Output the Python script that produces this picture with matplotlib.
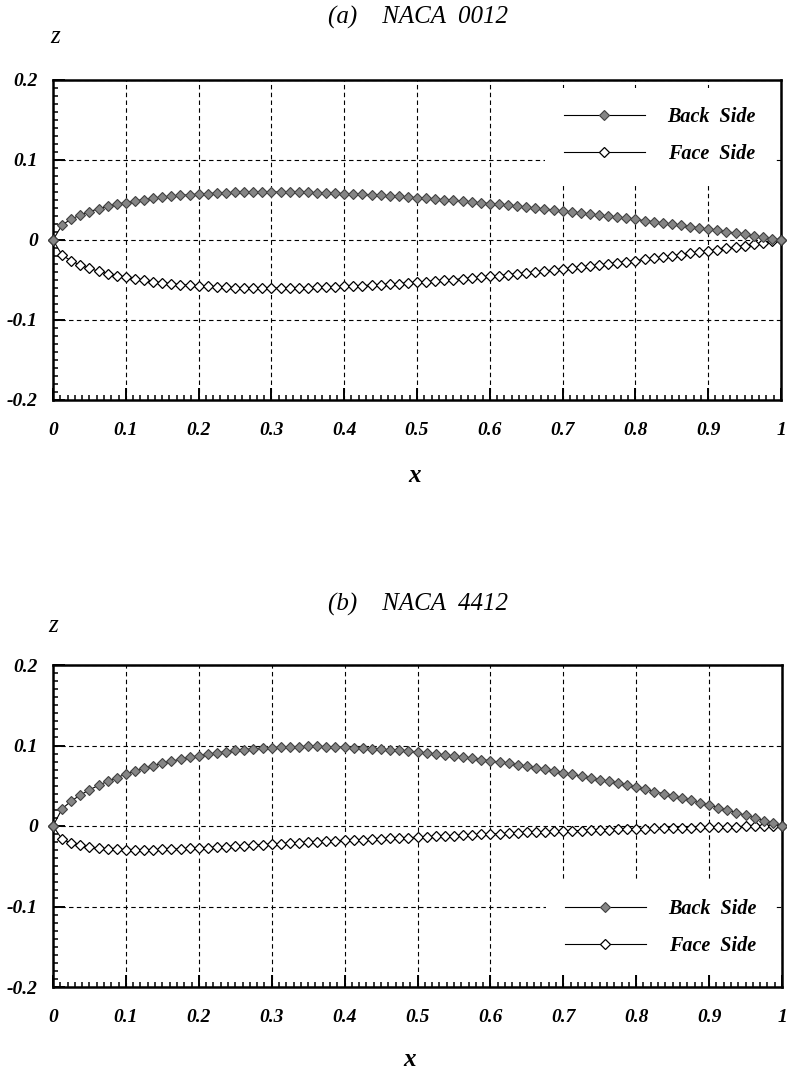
import matplotlib
matplotlib.use("Agg")
import matplotlib.pyplot as plt
from matplotlib.ticker import MultipleLocator, FixedLocator

plt.rcParams['font.family'] = ['Liberation Serif', 'DejaVu Serif']
plt.rcParams['axes.unicode_minus'] = False

# chord stations (x/c)
x_stations = [
    0.0, 0.0125, 0.025, 0.0375, 0.05, 0.0625, 0.075, 0.0875, 0.1, 0.1125,
    0.125, 0.1375, 0.15, 0.1625, 0.175, 0.1875, 0.2, 0.2125, 0.225, 0.2375,
    0.25, 0.2625, 0.275, 0.2875, 0.3, 0.3125, 0.325, 0.3375, 0.35, 0.3625,
    0.375, 0.3875, 0.4, 0.4125, 0.425, 0.4375, 0.45, 0.4625, 0.475, 0.4875,
    0.5, 0.5125, 0.525, 0.5375, 0.55, 0.5625, 0.575, 0.5875, 0.6, 0.6125,
    0.625, 0.6375, 0.65, 0.6625, 0.675, 0.6875, 0.7, 0.7125, 0.725, 0.7375,
    0.75, 0.7625, 0.775, 0.7875, 0.8, 0.8125, 0.825, 0.8375, 0.85, 0.8625,
    0.875, 0.8875, 0.9, 0.9125, 0.925, 0.9375, 0.95, 0.9625, 0.975, 0.9875,
    1.0,
]

# (a) NACA 0012
back_0012 = [
    0.0, 0.0189, 0.0261, 0.0314, 0.0355, 0.0390, 0.0420, 0.0446, 0.0468, 0.0488,
    0.0506, 0.0521, 0.0535, 0.0546, 0.0557, 0.0566, 0.0574, 0.0580, 0.0586, 0.0590,
    0.0594, 0.0597, 0.0599, 0.0600, 0.0600, 0.0600, 0.0599, 0.0597, 0.0595, 0.0592,
    0.0588, 0.0584, 0.0580, 0.0575, 0.0570, 0.0564, 0.0558, 0.0551, 0.0544, 0.0536,
    0.0529, 0.0520, 0.0512, 0.0503, 0.0494, 0.0485, 0.0475, 0.0465, 0.0455, 0.0444,
    0.0433, 0.0422, 0.0411, 0.0399, 0.0388, 0.0376, 0.0363, 0.0351, 0.0338, 0.0325,
    0.0312, 0.0299, 0.0285, 0.0271, 0.0257, 0.0243, 0.0228, 0.0214, 0.0199, 0.0183,
    0.0168, 0.0152, 0.0136, 0.0120, 0.0104, 0.0087, 0.0070, 0.0053, 0.0036, 0.0018,
    0.0,
]
face_0012 = [
    0.0, -0.0189, -0.0261, -0.0314, -0.0355, -0.0390, -0.0420, -0.0446, -0.0468, -0.0488,
    -0.0506, -0.0521, -0.0535, -0.0546, -0.0557, -0.0566, -0.0574, -0.0580, -0.0586, -0.0590,
    -0.0594, -0.0597, -0.0599, -0.0600, -0.0600, -0.0600, -0.0599, -0.0597, -0.0595, -0.0592,
    -0.0588, -0.0584, -0.0580, -0.0575, -0.0570, -0.0564, -0.0558, -0.0551, -0.0544, -0.0536,
    -0.0529, -0.0520, -0.0512, -0.0503, -0.0494, -0.0485, -0.0475, -0.0465, -0.0455, -0.0444,
    -0.0433, -0.0422, -0.0411, -0.0399, -0.0388, -0.0376, -0.0363, -0.0351, -0.0338, -0.0325,
    -0.0312, -0.0299, -0.0285, -0.0271, -0.0257, -0.0243, -0.0228, -0.0214, -0.0199, -0.0183,
    -0.0168, -0.0152, -0.0136, -0.0120, -0.0104, -0.0087, -0.0070, -0.0053, -0.0036, -0.0018,
    0.0,
]

# (b) NACA 4412
back_4412 = [
    0.0, 0.0214, 0.0310, 0.0385, 0.0449, 0.0505, 0.0556, 0.0602, 0.0643, 0.0681,
    0.0716, 0.0749, 0.0778, 0.0805, 0.0830, 0.0853, 0.0874, 0.0892, 0.0909, 0.0924,
    0.0938, 0.0950, 0.0960, 0.0968, 0.0975, 0.0981, 0.0985, 0.0987, 0.0988, 0.0988,
    0.0987, 0.0984, 0.0980, 0.0975, 0.0969, 0.0962, 0.0955, 0.0947, 0.0938, 0.0928,
    0.0917, 0.0906, 0.0895, 0.0882, 0.0869, 0.0855, 0.0841, 0.0826, 0.0810, 0.0794,
    0.0777, 0.0760, 0.0742, 0.0723, 0.0704, 0.0684, 0.0663, 0.0642, 0.0621, 0.0599,
    0.0576, 0.0553, 0.0529, 0.0504, 0.0479, 0.0454, 0.0428, 0.0401, 0.0374, 0.0346,
    0.0317, 0.0288, 0.0259, 0.0229, 0.0198, 0.0166, 0.0134, 0.0102, 0.0068, 0.0034,
    0.0,
]
face_4412 = [
    0.0, -0.0165, -0.0213, -0.0242, -0.0262, -0.0275, -0.0284, -0.0290, -0.0293, -0.0295,
    -0.0295, -0.0293, -0.0291, -0.0287, -0.0283, -0.0279, -0.0274, -0.0268, -0.0262, -0.0256,
    -0.0250, -0.0244, -0.0238, -0.0231, -0.0225, -0.0219, -0.0213, -0.0207, -0.0201, -0.0195,
    -0.0190, -0.0185, -0.0180, -0.0175, -0.0170, -0.0165, -0.0160, -0.0155, -0.0150, -0.0145,
    -0.0140, -0.0135, -0.0129, -0.0124, -0.0119, -0.0114, -0.0109, -0.0104, -0.0099, -0.0094,
    -0.0090, -0.0085, -0.0080, -0.0076, -0.0072, -0.0067, -0.0063, -0.0059, -0.0056, -0.0052,
    -0.0048, -0.0045, -0.0041, -0.0038, -0.0035, -0.0032, -0.0029, -0.0026, -0.0024, -0.0021,
    -0.0019, -0.0016, -0.0014, -0.0012, -0.0010, -0.0008, -0.0006, -0.0005, -0.0003, -0.0002,
    0.0,
]

series_labels = ['Back  Side', 'Face  Side']
titles = ['(a)    NACA  0012', '(b)    NACA  4412']
xticks = [0, 0.1, 0.2, 0.3, 0.4, 0.5, 0.6, 0.7, 0.8, 0.9, 1.0]
xticklabels = ['0', '0.1', '0.2', '0.3', '0.4', '0.5', '0.6', '0.7', '0.8', '0.9', '1']
yticks = [-0.2, -0.1, 0, 0.1, 0.2]
yticklabels = ['-0.2', '-0.1', '0', '0.1', '0.2']

W, H = 787, 1072
fig = plt.figure(figsize=(W / 100, H / 100), dpi=100)

tick_font = dict(family='Liberation Serif', style='italic', weight='bold', size=14)


def make_axes(px_left, px_top, px_right, px_bottom):
    return fig.add_axes([px_left / W, 1 - px_bottom / H,
                         (px_right - px_left) / W, (px_bottom - px_top) / H])


def draw(ax, back, face, legend_loc, anchor):
    ax.set_xlim(0, 1)
    ax.set_ylim(-0.2, 0.2)
    hf, = ax.plot(x_stations, face, color='black', lw=0.8, marker='D', ms=5.0,
                  mfc='white', mec='black', mew=0.9, clip_on=False, zorder=3)
    hb, = ax.plot(x_stations, back, color='black', lw=0.8, marker='D', ms=5.0,
                  mfc='#858585', mec='#404040', mew=0.8, clip_on=False, zorder=4)
    ax.xaxis.set_major_locator(FixedLocator(xticks))
    ax.set_xticklabels(xticklabels, fontdict=tick_font)
    ax.yaxis.set_major_locator(FixedLocator(yticks))
    ax.set_yticklabels(yticklabels, fontdict=tick_font)
    ax.xaxis.set_minor_locator(MultipleLocator(0.01))
    ax.yaxis.set_minor_locator(MultipleLocator(0.01))
    ax.tick_params(which='major', direction='in', length=8.5, width=1.4,
                   top=False, right=False)
    ax.tick_params(axis='x', which='major', pad=16)
    ax.tick_params(axis='y', which='major', pad=11)
    ax.tick_params(which='minor', direction='in', length=3.6, width=1.1,
                   top=False, right=False)
    for s in ax.spines.values():
        s.set_linewidth(1.8)
    ax.grid(True, which='major', color='black', lw=0.8, ls=(0, (4, 3)))
    leg = ax.legend([hb, hf], series_labels, loc=legend_loc, bbox_to_anchor=anchor,
                    borderaxespad=0, frameon=True, fancybox=False, framealpha=1,
                    facecolor='white', edgecolor='none', numpoints=1,
                    handlelength=4.0, handletextpad=1.15, borderpad=0.95,
                    labelspacing=0.85,
                    prop=dict(family='Liberation Serif', style='italic',
                              weight='bold', size=14.5))
    return leg


ax1 = make_axes(53, 80, 781, 400)
draw(ax1, back_0012, face_0012, 'upper right', (0.992, 0.975))
ax2 = make_axes(53, 665, 782, 987)
draw(ax2, back_4412, face_4412, 'lower right', (0.992, 0.037))

label_font = dict(family='Liberation Serif', style='italic', size=18)
fig.text(418 / W, 1 - 17 / H, titles[0], ha='center', va='center', **label_font)
fig.text(418 / W, 1 - 604 / H, titles[1], ha='center', va='center', **label_font)
fig.text(55 / W, 1 - 37 / H, 'z', ha='center', va='center', **label_font)
fig.text(53 / W, 1 - 626 / H, 'z', ha='center', va='center', **label_font)
fig.text(415 / W, 1 - 475 / H, 'x', ha='center', va='center', weight='bold', **label_font)
fig.text(410 / W, 1 - 1060 / H, 'x', ha='center', va='center', weight='bold', **label_font)

fig.savefig('out.png', dpi=100)
